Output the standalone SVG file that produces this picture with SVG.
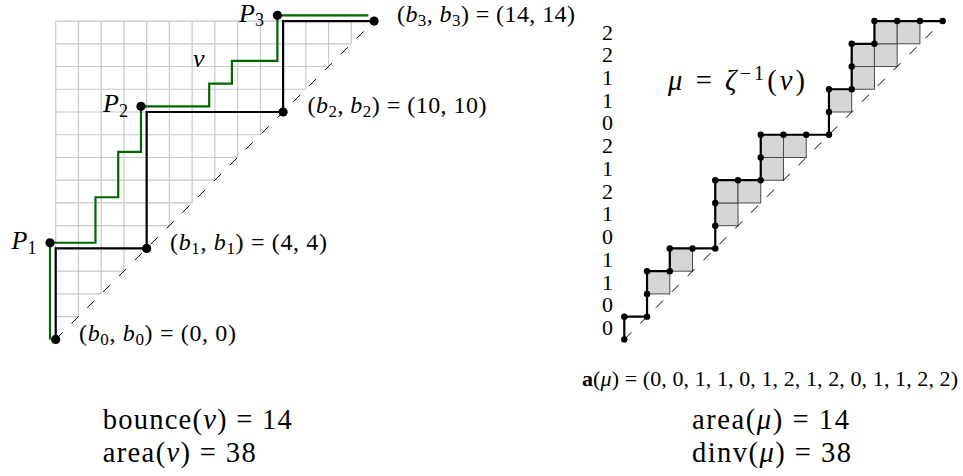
<svg xmlns="http://www.w3.org/2000/svg" width="963" height="476" viewBox="0 0 963 476">
<style>
.t{font-family:"Liberation Serif","DejaVu Serif",serif;fill:#000}
.i{font-style:italic}
.b{font-weight:bold}
.grid{fill:none;stroke:#c8c8c8;stroke-width:1.2}
.diag{fill:none;stroke:#000;stroke-width:1;stroke-dasharray:10 12.4}
.path{fill:none;stroke:#000;stroke-width:2.2;stroke-linejoin:miter}
.green{fill:none;stroke:#006600;stroke-width:2.2}
.cell{fill:#d6d6d6;stroke:#4a4a4a;stroke-width:1}
.dotL{fill:#000}
.dotR{fill:#000}
</style>
<g id="left-grid">
<path class="grid" d="M55.7 316.66H78.44M55.7 293.92H101.18M55.7 271.18H123.92M55.7 248.44H146.66M55.7 225.7H169.4M55.7 202.96H192.14M55.7 180.22H214.88M55.7 157.48H237.62M55.7 134.74H260.36M55.7 112H283.1M55.7 89.26H305.84M55.7 66.52H328.58M55.7 43.78H351.32M55.7 21.04H374.06M55.7 339.4V21.04M78.44 316.66V21.04M101.18 293.92V21.04M123.92 271.18V21.04M146.66 248.44V21.04M169.4 225.7V21.04M192.14 202.96V21.04M214.88 180.22V21.04M237.62 157.48V21.04M260.36 134.74V21.04M283.1 112V21.04M305.84 89.26V21.04M328.58 66.52V21.04M351.32 43.78V21.04"/>
<path class="diag" d="M55.7 339.4L374.06 21.04"/>
</g>
<g id="connectors">
<path id="nu-path" class="green" d="M50.01 339.4V242.75H95.49V197.27H118.23V151.79H140.97V106.31H209.19V83.57H231.93V60.83H277.41V15.35H368.37"/>
<path id="bounce-path" class="path" d="M55.7 339.4V248.44H146.66V112H283.1V21.04H374.06"/>
</g>
<g id="left-dots">
<circle class="dotL" cx="55.7" cy="339.4" r="4.6"/>
<circle class="dotL" cx="146.66" cy="248.44" r="4.6"/>
<circle class="dotL" cx="283.1" cy="112" r="4.6"/>
<circle class="dotL" cx="374.06" cy="21.04" r="4.6"/>
<circle class="dotL" cx="50.01" cy="242.75" r="4.6"/>
<circle class="dotL" cx="140.97" cy="106.31" r="4.6"/>
<circle class="dotL" cx="277.41" cy="15.35" r="4.6"/>
</g>
<g id="left-labels">
<text class="t" x="11.5" y="249" font-size="26"><tspan class="i">P</tspan><tspan font-size="18" dy="5">1</tspan></text>
<text class="t" x="103" y="112" font-size="26"><tspan class="i">P</tspan><tspan font-size="18" dy="5">2</tspan></text>
<text class="t" x="239" y="21.5" font-size="26"><tspan class="i">P</tspan><tspan font-size="18" dy="4.5">3</tspan></text>
<text class="t i" x="193" y="66.5" font-size="26">ν</text>
<text class="t" x="79" y="340.5" font-size="24" textLength="157" lengthAdjust="spacing">(<tspan class="i">b</tspan><tspan font-size="17" dy="4">0</tspan><tspan dy="-4">, </tspan><tspan class="i">b</tspan><tspan font-size="17" dy="4">0</tspan><tspan dy="-4">) = (0, 0)</tspan></text>
<text class="t" x="170" y="249.5" font-size="24" textLength="157" lengthAdjust="spacing">(<tspan class="i">b</tspan><tspan font-size="17" dy="4">1</tspan><tspan dy="-4">, </tspan><tspan class="i">b</tspan><tspan font-size="17" dy="4">1</tspan><tspan dy="-4">) = (4, 4)</tspan></text>
<text class="t" x="307.5" y="113" font-size="24" textLength="179" lengthAdjust="spacing">(<tspan class="i">b</tspan><tspan font-size="17" dy="4">2</tspan><tspan dy="-4">, </tspan><tspan class="i">b</tspan><tspan font-size="17" dy="4">2</tspan><tspan dy="-4">) = (10, 10)</tspan></text>
<text class="t" x="397" y="22" font-size="24" textLength="178" lengthAdjust="spacing">(<tspan class="i">b</tspan><tspan font-size="17" dy="4">3</tspan><tspan dy="-4">, </tspan><tspan class="i">b</tspan><tspan font-size="17" dy="4">3</tspan><tspan dy="-4">) = (14, 14)</tspan></text>
<text class="t" x="102.7" y="429" font-size="28.6" textLength="189" lengthAdjust="spacing">bounce(<tspan class="i">ν</tspan>) = 14</text>
<text class="t" x="102.7" y="462" font-size="28.6" textLength="153" lengthAdjust="spacing">area(<tspan class="i">ν</tspan>) = 38</text>
</g>
<g id="right-cells">
<rect class="cell" x="647.04" y="271.18" width="22.74" height="22.74"/>
<rect class="cell" x="669.78" y="248.44" width="22.74" height="22.74"/>
<rect class="cell" x="715.26" y="202.96" width="22.74" height="22.74"/>
<rect class="cell" x="715.26" y="180.22" width="22.74" height="22.74"/>
<rect class="cell" x="738" y="180.22" width="22.74" height="22.74"/>
<rect class="cell" x="760.74" y="157.48" width="22.74" height="22.74"/>
<rect class="cell" x="760.74" y="134.74" width="22.74" height="22.74"/>
<rect class="cell" x="783.48" y="134.74" width="22.74" height="22.74"/>
<rect class="cell" x="828.96" y="89.26" width="22.74" height="22.74"/>
<rect class="cell" x="851.7" y="66.52" width="22.74" height="22.74"/>
<rect class="cell" x="851.7" y="43.78" width="22.74" height="22.74"/>
<rect class="cell" x="874.44" y="43.78" width="22.74" height="22.74"/>
<rect class="cell" x="874.44" y="21.04" width="22.74" height="22.74"/>
<rect class="cell" x="897.18" y="21.04" width="22.74" height="22.74"/>
<path class="diag" d="M624.3 339.4L942.66 21.04"/>
</g>
<g id="mu-path">
<path class="path" d="M624.3 339.4V316.66H647.04V271.18H669.78V248.44H715.26V180.22H760.74V134.74H828.96V89.26H851.7V43.78H874.44V21.04H942.66"/>
<g class="dotR">
<circle cx="624.3" cy="339.4" r="3.2"/><circle cx="624.3" cy="316.66" r="3.2"/><circle cx="647.04" cy="316.66" r="3.2"/><circle cx="647.04" cy="293.92" r="3.2"/><circle cx="647.04" cy="271.18" r="3.2"/><circle cx="669.78" cy="271.18" r="3.2"/><circle cx="669.78" cy="248.44" r="3.2"/><circle cx="692.52" cy="248.44" r="3.2"/><circle cx="715.26" cy="248.44" r="3.2"/><circle cx="715.26" cy="225.7" r="3.2"/><circle cx="715.26" cy="202.96" r="3.2"/><circle cx="715.26" cy="180.22" r="3.2"/><circle cx="738" cy="180.22" r="3.2"/><circle cx="760.74" cy="180.22" r="3.2"/><circle cx="760.74" cy="157.48" r="3.2"/><circle cx="760.74" cy="134.74" r="3.2"/><circle cx="783.48" cy="134.74" r="3.2"/><circle cx="806.22" cy="134.74" r="3.2"/><circle cx="828.96" cy="134.74" r="3.2"/><circle cx="828.96" cy="112" r="3.2"/><circle cx="828.96" cy="89.26" r="3.2"/><circle cx="851.7" cy="89.26" r="3.2"/><circle cx="851.7" cy="66.52" r="3.2"/><circle cx="851.7" cy="43.78" r="3.2"/><circle cx="874.44" cy="43.78" r="3.2"/><circle cx="874.44" cy="21.04" r="3.2"/><circle cx="897.18" cy="21.04" r="3.2"/><circle cx="919.92" cy="21.04" r="3.2"/><circle cx="942.66" cy="21.04" r="3.2"/>
</g>
</g>
<g id="right-labels" class="t" font-size="22" text-anchor="middle">
<text x="607.5" y="39.5">2</text>
<text x="607.5" y="62.2">2</text>
<text x="607.5" y="85">1</text>
<text x="607.5" y="107.7">1</text>
<text x="607.5" y="130.4">0</text>
<text x="607.5" y="153.2">2</text>
<text x="607.5" y="175.9">1</text>
<text x="607.5" y="198.7">2</text>
<text x="607.5" y="221.4">1</text>
<text x="607.5" y="244.1">0</text>
<text x="607.5" y="266.9">1</text>
<text x="607.5" y="289.6">1</text>
<text x="607.5" y="312.4">0</text>
<text x="607.5" y="335.1">0</text>
</g>
<g id="right-text">
<text class="t" x="668" y="90" font-size="28.5" textLength="137" lengthAdjust="spacing"><tspan class="i">μ</tspan> = <tspan class="i">ζ</tspan><tspan font-size="20" dy="-10">−1</tspan><tspan dy="10">(</tspan><tspan class="i">ν</tspan>)</text>
<text class="t" x="582" y="386" font-size="22" textLength="376" lengthAdjust="spacing"><tspan class="b">a</tspan>(<tspan class="i">μ</tspan>) = (0, 0, 1, 1, 0, 1, 2, 1, 2, 0, 1, 1, 2, 2)</text>
<text class="t" x="692" y="429" font-size="28.6" textLength="157" lengthAdjust="spacing">area(<tspan class="i">μ</tspan>) = 14</text>
<text class="t" x="692" y="462" font-size="28.6" textLength="159" lengthAdjust="spacing">dinv(<tspan class="i">μ</tspan>) = 38</text>
</g>
</svg>
